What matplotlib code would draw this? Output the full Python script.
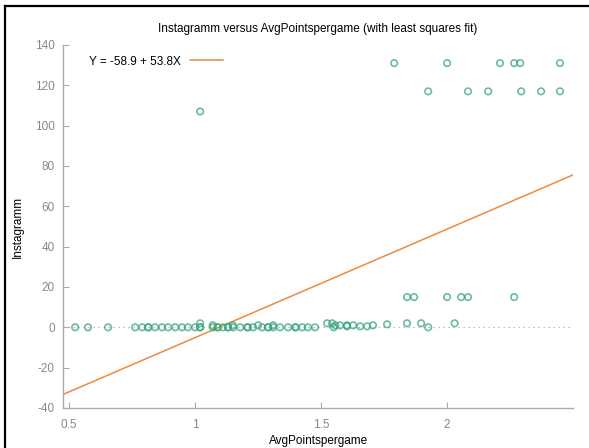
import numpy as np
import matplotlib.pyplot as plt
from matplotlib.lines import Line2D

plt.rcParams['font.family'] = ['Liberation Sans', 'DejaVu Sans']
plt.rcParams['axes.unicode_minus'] = False

# points
avg_points = [
    # zero row
    0.524, 0.575, 0.655, 0.762, 0.79, 0.814, 0.814, 0.841, 0.869, 0.893, 0.921,
    0.948, 0.972, 1.0, 1.02, 1.02, 1.071, 1.09, 1.09, 1.111, 1.131, 1.131, 1.151,
    1.179, 1.206, 1.21, 1.23, 1.266, 1.29, 1.29, 1.31, 1.337, 1.369, 1.397, 1.4,
    1.425, 1.448, 1.476, 1.55, 1.925,
    # slightly above zero
    1.02, 1.07, 1.15, 1.25, 1.31, 1.524, 1.544, 1.556, 1.575, 1.603, 1.627,
    1.603, 1.655, 1.683, 1.706, 1.762, 1.841, 1.897, 2.03,
    # 15 row
    1.841, 1.869, 2.0, 2.056, 2.083, 2.266,
    # high values
    1.02,
    1.925, 2.083, 2.163, 2.294, 2.373, 2.448,
    1.79, 2.0, 2.21, 2.266, 2.29, 2.448,
]
instagramm = [
    0, 0, 0, 0, 0, 0, 0, 0, 0, 0, 0,
    0, 0, 0, 0, 0, 0, 0, 0, 0, 0, 0, 0,
    0, 0, 0, 0, 0, 0, 0, 0, 0, 0, 0, 0,
    0, 0, 0, 0, 0,
    2, 1, 1, 1, 1, 2, 2, 1, 1, 1, 1,
    0.5, 0.5, 0.5, 1, 1.5, 2, 2, 2,
    15, 15, 15, 15, 15, 15,
    107,
    117, 117, 117, 117, 117, 117,
    131, 131, 131, 131, 131, 131,
]

intercept = -58.9
slope = 53.8

fig = plt.figure(figsize=(5.89, 4.48), dpi=100)
ax = fig.add_axes([0.107, 0.0893, 0.866, 0.8103])

xmin, xmax = 0.476, 2.5
ax.set_xlim(xmin, xmax)
ax.set_ylim(-40, 140)

# zero line
ax.axhline(0, color='#aaaaaa', linestyle=(0, (1, 3)), linewidth=0.9, zorder=1)

ax.scatter(avg_points, instagramm, s=22, facecolors='none',
           edgecolors='#3aa67f', linewidths=1.2, alpha=0.75, zorder=3)

xs = np.array([xmin, xmax])
ax.plot(xs, intercept + slope * xs, color='#ec8a3f', linewidth=1.1,
        label=f'Y = {intercept} + {slope}X', zorder=2)

ax.legend(loc='upper left', bbox_to_anchor=(0.03, 1.0), markerfirst=False,
          frameon=False, handlelength=2.8, fontsize=8.5)

ax.set_xticks([0.5, 1, 1.5, 2])
ax.set_xticklabels(['0.5', '1', '1.5', '2'])
ax.set_yticks(range(-40, 141, 20))

for s in ['top', 'right']:
    ax.spines[s].set_visible(False)
for s in ['left', 'bottom']:
    ax.spines[s].set_color('#aaaaaa')
    ax.spines[s].set_linewidth(1.0)
ax.tick_params(direction='in', length=4, color='#aaaaaa', labelcolor='#888888',
               labelsize=8.5)
ax.tick_params(axis='x', pad=8)
ax.tick_params(axis='y', pad=6)

ax.set_title('Instagramm versus AvgPointspergame (with least squares fit)',
             fontsize=8.5, pad=9)
ax.set_xlabel('AvgPointspergame', fontsize=8.5, labelpad=3)
ax.set_ylabel('Instagramm', fontsize=8.5, labelpad=8)

# window frame
fig.add_artist(Line2D([4.5 / 589, 1], [1 - 6.5 / 448, 1 - 6.5 / 448],
                      color='black', linewidth=1.6, transform=fig.transFigure))
fig.add_artist(Line2D([4.5 / 589, 4.5 / 589], [0, 1 - 6.5 / 448],
                      color='black', linewidth=1.6, transform=fig.transFigure))

fig.savefig('out.png', dpi=100)
